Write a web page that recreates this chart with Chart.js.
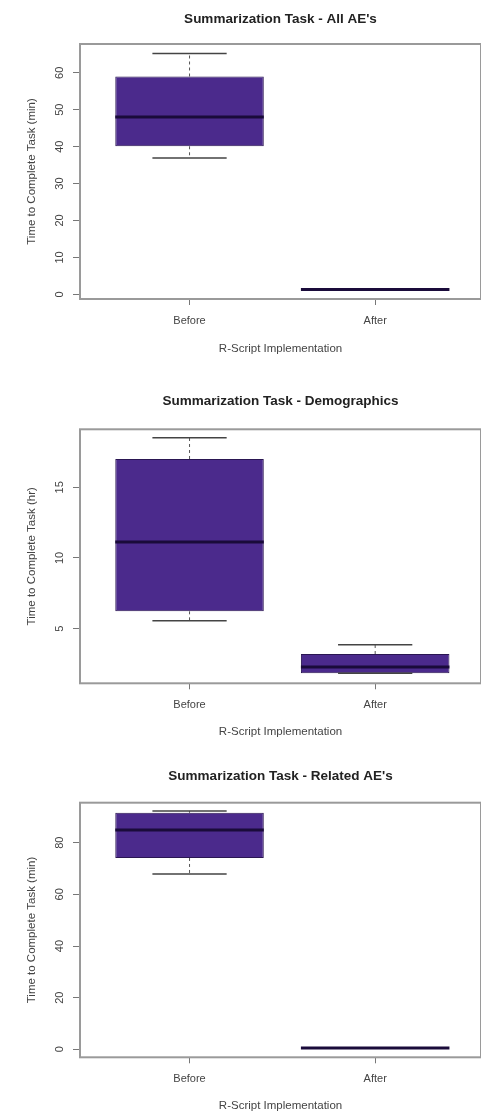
<!DOCTYPE html>
<html>
<head>
<meta charset="utf-8">
<script src="https://cdn.jsdelivr.net/npm/chart.js@4.4.1/dist/chart.umd.min.js"></script>
<style>
  html, body { margin: 0; padding: 0; background: #fff; }
  canvas { display: block; }
</style>
</head>
<body>
<canvas id="chart-all" width="481" height="370"></canvas>
<canvas id="chart-demo" width="481" height="370"></canvas>
<canvas id="chart-related" width="481" height="371"></canvas>
<script>
const categories = ["Before", "After"];

// All AE's (minutes)
const allLow = [36.9, 1.3];
const allQ1 = [40.1, 1.3];
const allMedian = [48.0, 1.3];
const allQ3 = [59.0, 1.3];
const allHigh = [65.2, 1.3];
const allTicks = [0, 10, 20, 30, 40, 50, 60];

// Demographics (hours)
const demoLow = [5.57, 1.85];
const demoQ1 = [6.23, 1.85];
const demoMedian = [11.13, 2.3];
const demoQ3 = [17.0, 3.21];
const demoHigh = [18.5, 3.87];
const demoTicks = [5, 10, 15];

// Related AE's (minutes)
const relLow = [67.9, 0.5];
const relQ1 = [74.1, 0.5];
const relMedian = [84.9, 0.5];
const relQ3 = [91.6, 0.5];
const relHigh = [92.3, 0.5];
const relTicks = [0, 20, 40, 60, 80];

const FONT = "'Liberation Sans', Arial, Helvetica, sans-serif";
const BOX_FILL = "#4b2a8c";
const BOX_BORDER = "#2a1652";
const MEDIAN = "#1a0b3a";

function boxPlugin(stats) {
  return {
    id: "boxExtras",
    afterDatasetsDraw(chart) {
      let ctx = chart.ctx;
      let y = chart.scales.y;
      let meta = chart.getDatasetMeta(0);
      ctx.save();
      meta.data.forEach(function (bar, i) {
        let half = bar.width / 2;
        let yLow = y.getPixelForValue(stats.low[i]);
        let yHigh = y.getPixelForValue(stats.high[i]);
        let yQ1 = y.getPixelForValue(stats.q1[i]);
        let yQ3 = y.getPixelForValue(stats.q3[i]);
        let yMed = y.getPixelForValue(stats.median[i]);

        // dashed whiskers like R's default
        ctx.strokeStyle = "#555";
        ctx.lineWidth = 1;
        ctx.setLineDash([3, 3]);
        ctx.beginPath();
        if (stats.high[i] > stats.q3[i]) {
          ctx.moveTo(bar.x, yQ3);
          ctx.lineTo(bar.x, yHigh);
        }
        if (stats.low[i] < stats.q1[i]) {
          ctx.moveTo(bar.x, yQ1);
          ctx.lineTo(bar.x, yLow);
        }
        ctx.stroke();
        ctx.setLineDash([]);

        // staples
        ctx.strokeStyle = "#444";
        ctx.lineWidth = 1.5;
        ctx.beginPath();
        ctx.moveTo(bar.x - half / 2, yHigh);
        ctx.lineTo(bar.x + half / 2, yHigh);
        ctx.moveTo(bar.x - half / 2, yLow);
        ctx.lineTo(bar.x + half / 2, yLow);
        ctx.stroke();

        // median
        ctx.strokeStyle = MEDIAN;
        ctx.lineWidth = 3;
        ctx.beginPath();
        ctx.moveTo(bar.x - half, yMed);
        ctx.lineTo(bar.x + half, yMed);
        ctx.stroke();
      });
      let a = chart.chartArea;
      ctx.strokeStyle = "#9a9a9a";
      ctx.lineWidth = 2;
      ctx.strokeRect(a.left, a.top, a.right - a.left, a.bottom - a.top);
      ctx.restore();
    },
  };
}

function makeBoxChart(id, p) {
  let stats = { low: p.low, q1: p.q1, median: p.median, q3: p.q3, high: p.high };
  let boxes = categories.map(function (c, i) {
    return { x: i + 1, y: [p.q1[i], p.q3[i]] };
  });
  return new Chart(document.getElementById(id), {
    type: "bar",
    data: {
      datasets: [
        {
          data: boxes,
          backgroundColor: BOX_FILL,
          borderColor: BOX_BORDER,
          borderWidth: 1,
          borderSkipped: false,
          categoryPercentage: 0.8,
          barPercentage: 1.0,
        },
      ],
    },
    options: {
      responsive: false,
      devicePixelRatio: 1,
      animation: false,
      layout: { padding: { left: 0, right: 0, top: 0, bottom: p.bottomPad } },
      plugins: {
        legend: { display: false },
        tooltip: { enabled: false },
        title: {
          display: true,
          text: p.title,
          fullSize: false,
          color: "#222",
          font: { family: FONT, size: 13.5, weight: "bold" },
          padding: p.titlePad,
        },
      },
      scales: {
        x: {
          type: "linear",
          min: 0.41,
          max: 2.57,
          offset: false,
          afterBuildTicks: function (s) {
            s.ticks = categories.map(function (c, i) {
              return { value: i + 1 };
            });
          },
          afterFit: function (s) {
            s.height = p.xHeight;
            s.paddingLeft = 0;
            s.paddingRight = 0;
          },
          grid: { drawOnChartArea: false, drawTicks: true, tickLength: 6, color: "#777", offset: false },
          border: { display: false },
          ticks: {
            padding: 9.4,
            maxRotation: 0,
            autoSkip: false,
            color: "#444",
            font: { family: FONT, size: 11 },
            callback: function (v, i) {
              return categories[i];
            },
          },
          title: {
            display: true,
            text: "R-Script Implementation",
            color: "#444",
            font: { family: FONT, size: 11.5 },
            padding: { top: 0, bottom: p.xTitlePad },
          },
        },
        y: {
          min: p.yMin,
          max: p.yMax,
          afterBuildTicks: function (s) {
            s.ticks = p.ticks.map(function (v) {
              return { value: v };
            });
          },
          afterFit: function (s) {
            s.width = 80;
          },
          grid: { drawOnChartArea: false, drawTicks: true, tickLength: 7, color: "#777" },
          border: { display: false },
          ticks: {
            minRotation: 90,
            maxRotation: 90,
            crossAlign: "center",
            padding: 6.9,
            color: "#444",
            font: { family: FONT, size: 11 },
          },
          title: {
            display: true,
            text: p.yTitle,
            color: "#444",
            font: { family: FONT, size: 11.5 },
            padding: { top: 25.1, bottom: 0 },
          },
        },
      },
    },
    plugins: [boxPlugin(stats)],
  });
}

makeBoxChart("chart-all", {
  title: "Summarization Task - All AE's",
  yTitle: "Time to Complete Task (min)",
  low: allLow, q1: allQ1, median: allMedian, q3: allQ3, high: allHigh,
  ticks: allTicks, yMin: -1.26, yMax: 67.8,
  titlePad: { top: 10.9, bottom: 16.9 },
  xHeight: 56.9, xTitlePad: 0, bottomPad: 14.1,
});

makeBoxChart("chart-demo", {
  title: "Summarization Task - Demographics",
  yTitle: "Time to Complete Task (hr)",
  low: demoLow, q1: demoQ1, median: demoMedian, q3: demoQ3, high: demoHigh,
  ticks: demoTicks, yMin: 1.14, yMax: 19.1,
  titlePad: { top: 23.6, bottom: 19.5 },
  xHeight: 55.3, xTitlePad: 0, bottomPad: 1.4,
});

makeBoxChart("chart-related", {
  title: "Summarization Task - Related AE's",
  yTitle: "Time to Complete Task (min)",
  low: relLow, q1: relQ1, median: relMedian, q3: relQ3, high: relHigh,
  ticks: relTicks, yMin: -3.1, yMax: 95.5,
  titlePad: { top: 27.9, bottom: 18.6 },
  xHeight: 53.7, xTitlePad: -1.9, bottomPad: 0,
});
</script>
</body>
</html>
